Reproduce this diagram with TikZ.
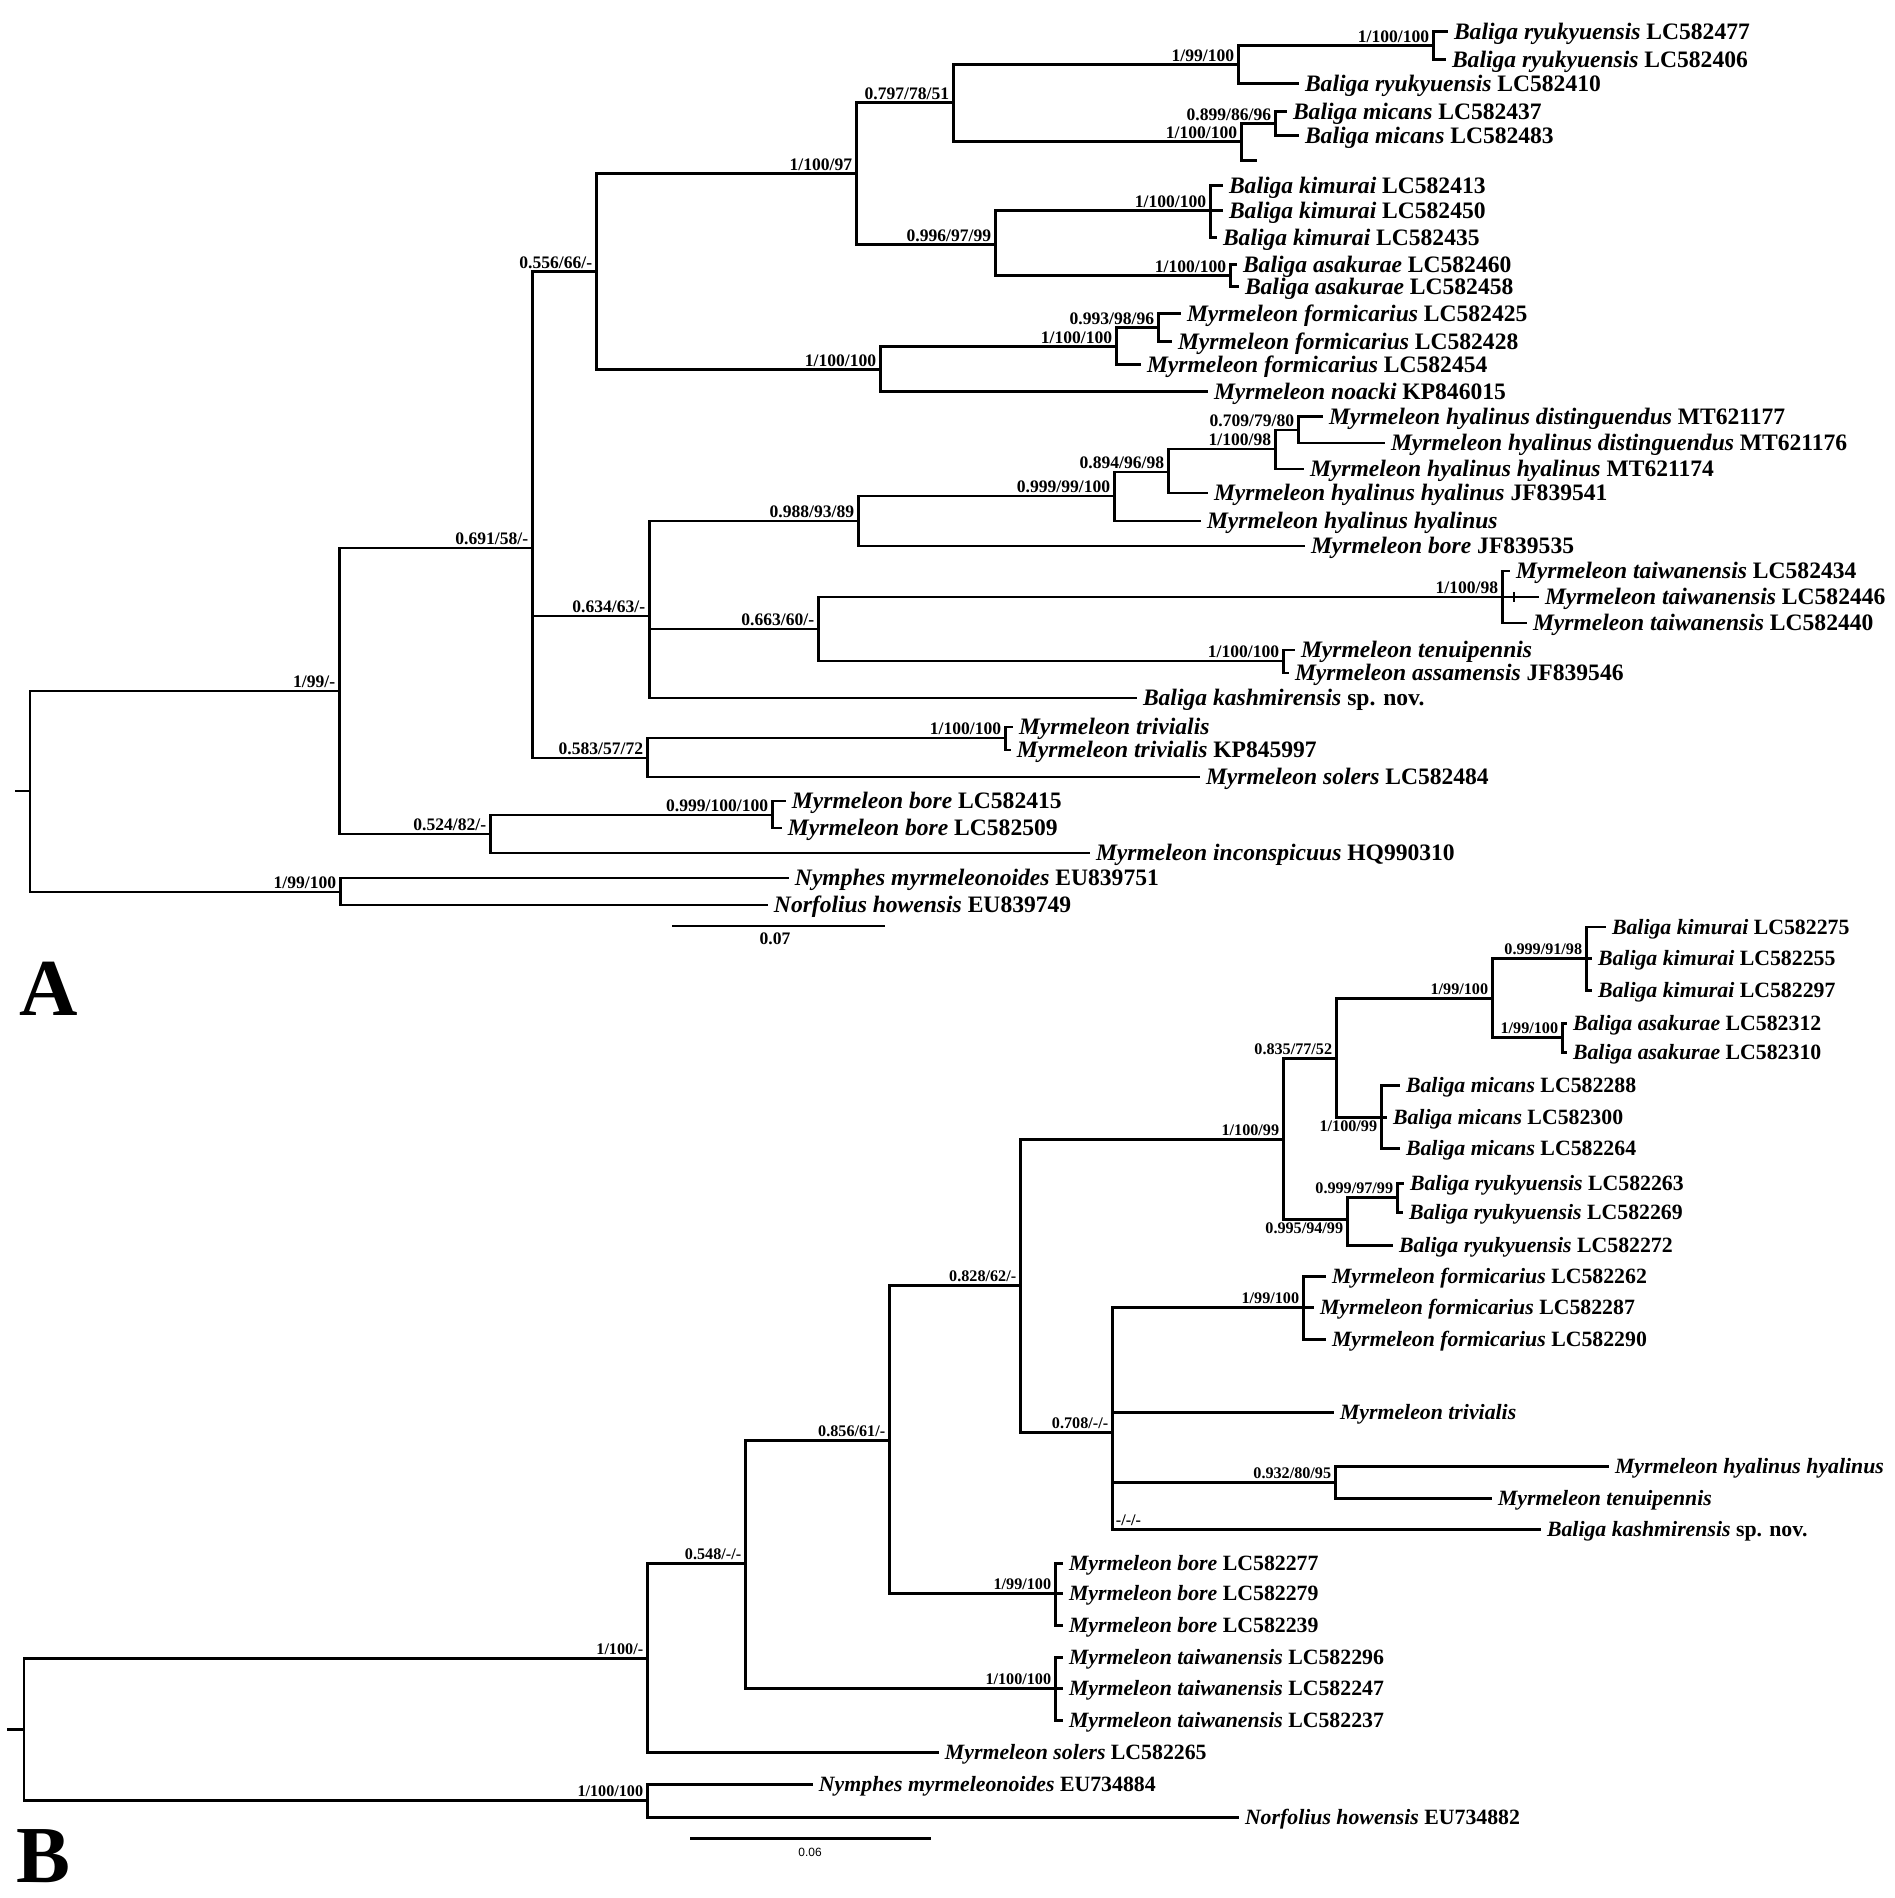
\documentclass[tikz,border=0pt]{standalone}
\usepackage{fontspec}
\setmainfont{Liberation Serif}
\setsansfont{Liberation Sans}
\newcommand{\taxon}[2]{\textit{#1}~#2}
\begin{document}
\begin{tikzpicture}[x=0.01cm,y=-0.01cm,
  branch/.style={line width=0.85pt},
  tip/.style={anchor=west,inner sep=1.5pt,text height=4.4pt,text depth=0pt,
    font=\fontsize{6.7}{7}\selectfont\bfseries},
  tipb/.style={tip,text height=4.1pt,font=\fontsize{6.2}{7}\selectfont\bfseries},
  supa/.style={anchor=south east,inner sep=0.9pt,text depth=0pt,
    font=\fontsize{5}{6}\selectfont\bfseries},
  supb/.style={supa,font=\fontsize{4.6}{5.5}\selectfont\bfseries},
  panel/.style={anchor=base west,inner sep=0pt,font=\fontsize{23}{23}\selectfont\bfseries}]
  \useasboundingbox (0,0) rectangle (1895,1898);

  % ================= tree A =================
  % internal nodes
  \coordinate (a0s) at (15,791);
  \coordinate (a0) at (30,791);
  \coordinate (a1) at (339,691);
  \coordinate (a2) at (532,548);
  \coordinate (a3) at (596,272);
  \coordinate (a4) at (856,174);
  \coordinate (a5) at (953,103);
  \coordinate (a6) at (1238,65);
  \coordinate (a7) at (1433,46);
  \coordinate (a8) at (1241,142);
  \coordinate (a9) at (1275,124);
  \coordinate (a10) at (995,245);
  \coordinate (a11) at (1210,211);
  \coordinate (a12) at (1230,276);
  \coordinate (a13) at (880,370);
  \coordinate (a14) at (1116,347);
  \coordinate (a15) at (1158,328);
  \coordinate (a16) at (649,616);
  \coordinate (a17) at (858,521);
  \coordinate (a18) at (1114,496);
  \coordinate (a19) at (1168,472);
  \coordinate (a20) at (1275,449);
  \coordinate (a21) at (1298,430);
  \coordinate (a22) at (818,629);
  \coordinate (a23) at (1502,597);
  \coordinate (a24) at (1283,661);
  \coordinate (a25) at (647,758);
  \coordinate (a26) at (1005,738);
  \coordinate (a27) at (490,834);
  \coordinate (a28) at (772,815);
  \coordinate (a29) at (340,892);
  \coordinate (e1) at (1257,161);

  % tips
  \node[tip] (t1) at (1448,32) {\taxon{Baliga ryukyuensis}{LC582477}};
  \node[tip] (t2) at (1446,60) {\taxon{Baliga ryukyuensis}{LC582406}};
  \node[tip] (t3) at (1299,84) {\taxon{Baliga ryukyuensis}{LC582410}};
  \node[tip] (t4) at (1287,112) {\taxon{Baliga micans}{LC582437}};
  \node[tip] (t5) at (1299,136) {\taxon{Baliga micans}{LC582483}};
  \node[tip] (t6) at (1223,186) {\taxon{Baliga kimurai}{LC582413}};
  \node[tip] (t7) at (1223,211) {\taxon{Baliga kimurai}{LC582450}};
  \node[tip] (t8) at (1217,238) {\taxon{Baliga kimurai}{LC582435}};
  \node[tip] (t9) at (1237,265) {\taxon{Baliga asakurae}{LC582460}};
  \node[tip] (t10) at (1239,287) {\taxon{Baliga asakurae}{LC582458}};
  \node[tip] (t11) at (1181,314) {\taxon{Myrmeleon formicarius}{LC582425}};
  \node[tip] (t12) at (1172,342) {\taxon{Myrmeleon formicarius}{LC582428}};
  \node[tip] (t13) at (1141,365) {\taxon{Myrmeleon formicarius}{LC582454}};
  \node[tip] (t14) at (1208,392) {\taxon{Myrmeleon noacki}{KP846015}};
  \node[tip] (t15) at (1323,417) {\taxon{Myrmeleon hyalinus distinguendus}{MT621177}};
  \node[tip] (t16) at (1385,443) {\taxon{Myrmeleon hyalinus distinguendus}{MT621176}};
  \node[tip] (t17) at (1304,469) {\taxon{Myrmeleon hyalinus hyalinus}{MT621174}};
  \node[tip] (t18) at (1208,493) {\taxon{Myrmeleon hyalinus hyalinus}{JF839541}};
  \node[tip] (t19) at (1201,521) {\textit{Myrmeleon hyalinus hyalinus}};
  \node[tip] (t20) at (1305,546) {\taxon{Myrmeleon bore}{JF839535}};
  \node[tip] (t21) at (1510,571) {\taxon{Myrmeleon taiwanensis}{LC582434}};
  \node[tip] (t22) at (1539,597) {\taxon{Myrmeleon taiwanensis}{LC582446}};
  \node[tip] (t23) at (1527,623) {\taxon{Myrmeleon taiwanensis}{LC582440}};
  \node[tip] (t24) at (1295,650) {\textit{Myrmeleon tenuipennis}};
  \node[tip] (t25) at (1289,673) {\taxon{Myrmeleon assamensis}{JF839546}};
  \node[tip] (t26) at (1137,698) {\taxon{Baliga kashmirensis}{sp. nov.}};
  \node[tip] (t27) at (1013,727) {\textit{Myrmeleon trivialis}};
  \node[tip] (t28) at (1011,750) {\taxon{Myrmeleon trivialis}{KP845997}};
  \node[tip] (t29) at (1200,777) {\taxon{Myrmeleon solers}{LC582484}};
  \node[tip] (t30) at (786,801) {\taxon{Myrmeleon bore}{LC582415}};
  \node[tip] (t31) at (782,828) {\taxon{Myrmeleon bore}{LC582509}};
  \node[tip] (t32) at (1090,853) {\taxon{Myrmeleon inconspicuus}{HQ990310}};
  \node[tip] (t33) at (789,878) {\taxon{Nymphes myrmeleonoides}{EU839751}};
  \node[tip] (t34) at (768,905) {\taxon{Norfolius howensis}{EU839749}};

  % branches
  \draw[branch] (a0s) -- (a0);
  \draw[branch] (a0) |- (a1) (a0) |- (a29);
  \draw[branch] (a1) |- (a2) (a1) |- (a27);
  \draw[branch] (a2) |- (a3) (a2) |- (a16) (a2) |- (a25);
  \draw[branch] (a3) |- (a4) (a3) |- (a13);
  \draw[branch] (a4) |- (a5) (a4) |- (a10);
  \draw[branch] (a5) |- (a6) (a5) |- (a8);
  \draw[branch] (a6) |- (a7) (a6) |- (t3.west);
  \draw[branch] (a7) |- (t1.west) (a7) |- (t2.west);
  \draw[branch] (a8) |- (a9) (a8) |- (e1);
  \draw[branch] (a9) |- (t4.west) (a9) |- (t5.west);
  \draw[branch] (a10) |- (a11) (a10) |- (a12);
  \draw[branch] (a11) |- (t6.west) (a11) |- (t7.west) (a11) |- (t8.west);
  \draw[branch] (a12) |- (t9.west) (a12) |- (t10.west);
  \draw[branch] (a13) |- (a14) (a13) |- (t14.west);
  \draw[branch] (a14) |- (a15) (a14) |- (t13.west);
  \draw[branch] (a15) |- (t11.west) (a15) |- (t12.west);
  \draw[branch] (a16) |- (a17) (a16) |- (a22) (a16) |- (t26.west);
  \draw[branch] (a17) |- (a18) (a17) |- (t20.west);
  \draw[branch] (a18) |- (a19) (a18) |- (t19.west);
  \draw[branch] (a19) |- (a20) (a19) |- (t18.west);
  \draw[branch] (a20) |- (a21) (a20) |- (t17.west);
  \draw[branch] (a21) |- (t15.west) (a21) |- (t16.west);
  \draw[branch] (a22) |- (a23) (a22) |- (a24);
  \draw[branch] (a23) |- (t21.west) (a23) |- (t22.west) (a23) |- (t23.west);
  \draw[branch,line width=0.5pt] (1514,592) -- (1514,602);
  \draw[branch] (a24) |- (t24.west) (a24) |- (t25.west);
  \draw[branch] (a25) |- (a26) (a25) |- (t29.west);
  \draw[branch] (a26) |- (t27.west) (a26) |- (t28.west);
  \draw[branch] (a27) |- (a28) (a27) |- (t32.west);
  \draw[branch] (a28) |- (t30.west) (a28) |- (t31.west);
  \draw[branch] (a29) |- (t33.west) (a29) |- (t34.west);

  % support values
  \node[supa] (sa1) at (a1) {1/99/-};
  \node[supa] (sa2) at (a2) {0.691/58/-};
  \node[supa] (sa3) at (a3) {0.556/66/-};
  \node[supa] (sa4) at (a4) {1/100/97};
  \node[supa] (sa5) at (a5) {0.797/78/51};
  \node[supa] (sa6) at (a6) {1/99/100};
  \node[supa] (sa7) at (a7) {1/100/100};
  \node[supa] (sa8) at (a8) {1/100/100};
  \node[supa] (sa9) at (a9) {0.899/86/96};
  \node[supa] (sa10) at (a10) {0.996/97/99};
  \node[supa] (sa11) at (a11) {1/100/100};
  \node[supa] (sa12) at (a12) {1/100/100};
  \node[supa] (sa13) at (a13) {1/100/100};
  \node[supa] (sa14) at (a14) {1/100/100};
  \node[supa] (sa15) at (a15) {0.993/98/96};
  \node[supa] (sa16) at (a16) {0.634/63/-};
  \node[supa] (sa17) at (a17) {0.988/93/89};
  \node[supa] (sa18) at (a18) {0.999/99/100};
  \node[supa] (sa19) at (a19) {0.894/96/98};
  \node[supa] (sa20) at (a20) {1/100/98};
  \node[supa] (sa21) at (a21) {0.709/79/80};
  \node[supa] (sa22) at (a22) {0.663/60/-};
  \node[supa] (sa23) at (a23) {1/100/98};
  \node[supa] (sa24) at (a24) {1/100/100};
  \node[supa] (sa25) at (a25) {0.583/57/72};
  \node[supa] (sa26) at (a26) {1/100/100};
  \node[supa] (sa27) at (a27) {0.524/82/-};
  \node[supa] (sa28) at (a28) {0.999/100/100};
  \node[supa] (sa29) at (a29) {1/99/100};

  % scale bar and panel letter
  \coordinate (barA1) at (672,926);
  \coordinate (barA2) at (885,926);
  \draw[branch] (barA1) -- (barA2);
  \node[inner sep=0pt,font=\fontsize{5}{6}\selectfont\bfseries] (barAlab) at (775,939) {0.07};
  \node[panel] (panA) at (19,1015) {A};

  % ================= tree B =================
  % internal nodes
  \coordinate (b0s) at (7,1729);
  \coordinate (b0) at (24,1729);
  \coordinate (b1) at (647,1658);
  \coordinate (b2) at (745,1563);
  \coordinate (b3) at (889,1440);
  \coordinate (b4) at (1020,1285);
  \coordinate (b5) at (1283,1139);
  \coordinate (b6) at (1336,1058);
  \coordinate (b7) at (1492,998);
  \coordinate (b8) at (1586,958);
  \coordinate (b9) at (1562,1037);
  \coordinate (b10) at (1381,1117);
  \coordinate (b11) at (1347,1219);
  \coordinate (b12) at (1397,1197);
  \coordinate (b13) at (1112,1432);
  \coordinate (b14) at (1303,1307);
  \coordinate (b15) at (1335,1482);
  \coordinate (b16) at (1055,1593);
  \coordinate (b17) at (1055,1688);
  \coordinate (b18) at (647,1800);

  % tips
  \node[tipb] (u1) at (1606,927) {\taxon{Baliga kimurai}{LC582275}};
  \node[tipb] (u2) at (1592,958) {\taxon{Baliga kimurai}{LC582255}};
  \node[tipb] (u3) at (1592,990) {\taxon{Baliga kimurai}{LC582297}};
  \node[tipb] (u4) at (1567,1023) {\taxon{Baliga asakurae}{LC582312}};
  \node[tipb] (u5) at (1567,1052) {\taxon{Baliga asakurae}{LC582310}};
  \node[tipb] (u6) at (1400,1085) {\taxon{Baliga micans}{LC582288}};
  \node[tipb] (u7) at (1387,1117) {\taxon{Baliga micans}{LC582300}};
  \node[tipb] (u8) at (1400,1148) {\taxon{Baliga micans}{LC582264}};
  \node[tipb] (u9) at (1404,1183) {\taxon{Baliga ryukyuensis}{LC582263}};
  \node[tipb] (u10) at (1403,1212) {\taxon{Baliga ryukyuensis}{LC582269}};
  \node[tipb] (u11) at (1393,1245) {\taxon{Baliga ryukyuensis}{LC582272}};
  \node[tipb] (u12) at (1326,1276) {\taxon{Myrmeleon formicarius}{LC582262}};
  \node[tipb] (u13) at (1314,1307) {\taxon{Myrmeleon formicarius}{LC582287}};
  \node[tipb] (u14) at (1326,1339) {\taxon{Myrmeleon formicarius}{LC582290}};
  \node[tipb] (u15) at (1334,1412) {\textit{Myrmeleon trivialis}};
  \node[tipb] (u16) at (1609,1466) {\textit{Myrmeleon hyalinus hyalinus}};
  \node[tipb] (u17) at (1492,1498) {\textit{Myrmeleon tenuipennis}};
  \node[tipb] (u18) at (1541,1529) {\taxon{Baliga kashmirensis}{sp. nov.}};
  \node[tipb] (u19) at (1063,1563) {\taxon{Myrmeleon bore}{LC582277}};
  \node[tipb] (u20) at (1063,1593) {\taxon{Myrmeleon bore}{LC582279}};
  \node[tipb] (u21) at (1063,1625) {\taxon{Myrmeleon bore}{LC582239}};
  \node[tipb] (u22) at (1063,1657) {\taxon{Myrmeleon taiwanensis}{LC582296}};
  \node[tipb] (u23) at (1063,1688) {\taxon{Myrmeleon taiwanensis}{LC582247}};
  \node[tipb] (u24) at (1063,1720) {\taxon{Myrmeleon taiwanensis}{LC582237}};
  \node[tipb] (u25) at (939,1752) {\taxon{Myrmeleon solers}{LC582265}};
  \node[tipb] (u26) at (813,1784) {\taxon{Nymphes myrmeleonoides}{EU734884}};
  \node[tipb] (u27) at (1239,1817) {\taxon{Norfolius howensis}{EU734882}};

  % branches
  \draw[branch] (b0s) -- (b0);
  \draw[branch] (b0) |- (b1) (b0) |- (b18);
  \draw[branch] (b1) |- (b2) (b1) |- (u25.west);
  \draw[branch] (b2) |- (b3) (b2) |- (b17);
  \draw[branch] (b3) |- (b4) (b3) |- (b16);
  \draw[branch] (b4) |- (b5) (b4) |- (b13);
  \draw[branch] (b5) |- (b6) (b5) |- (b11);
  \draw[branch] (b6) |- (b7) (b6) |- (b10);
  \draw[branch] (b7) |- (b8) (b7) |- (b9);
  \draw[branch] (b8) |- (u1.west) (b8) |- (u2.west) (b8) |- (u3.west);
  \draw[branch] (b9) |- (u4.west) (b9) |- (u5.west);
  \draw[branch] (b10) |- (u6.west) (b10) |- (u7.west) (b10) |- (u8.west);
  \draw[branch] (b11) |- (b12) (b11) |- (u11.west);
  \draw[branch] (b12) |- (u9.west) (b12) |- (u10.west);
  \draw[branch] (b13) |- (b14) (b13) |- (u15.west) (b13) |- (b15) (b13) |- (u18.west);
  \draw[branch] (b14) |- (u12.west) (b14) |- (u13.west) (b14) |- (u14.west);
  \draw[branch] (b15) |- (u16.west) (b15) |- (u17.west);
  \draw[branch] (b16) |- (u19.west) (b16) |- (u20.west) (b16) |- (u21.west);
  \draw[branch] (b17) |- (u22.west) (b17) |- (u23.west) (b17) |- (u24.west);
  \draw[branch] (b18) |- (u26.west) (b18) |- (u27.west);

  % support values
  \node[supb] (sb1) at (b1) {1/100/-};
  \node[supb] (sb2) at (b2) {0.548/-/-};
  \node[supb] (sb3) at (b3) {0.856/61/-};
  \node[supb] (sb4) at (b4) {0.828/62/-};
  \node[supb] (sb5) at (b5) {1/100/99};
  \node[supb] (sb6) at (b6) {0.835/77/52};
  \node[supb] (sb7) at (b7) {1/99/100};
  \node[supb] (sb8) at (b8) {0.999/91/98};
  \node[supb] (sb9) at (b9) {1/99/100};
  \node[supb,anchor=north east] (sb10) at (b10) {1/100/99};
  \node[supb,anchor=north east] (sb11) at (b11) {0.995/94/99};
  \node[supb] (sb12) at (b12) {0.999/97/99};
  \node[supb] (sb13) at (b13) {0.708/-/-};
  \node[supb] (sb14) at (b14) {1/99/100};
  \node[supb] (sb15) at (b15) {0.932/80/95};
  \node[supb,anchor=south west] (sb13x) at (b13 |- u18) {-/-/-};
  \node[supb] (sb16) at (b16) {1/99/100};
  \node[supb] (sb17) at (b17) {1/100/100};
  \node[supb] (sb18) at (b18) {1/100/100};

  % scale bar and panel letter
  \coordinate (barB1) at (690,1838);
  \coordinate (barB2) at (931,1838);
  \draw[branch] (barB1) -- (barB2);
  \node[inner sep=0pt,font=\fontsize{3.4}{4}\selectfont\sffamily] (barBlab) at (810,1852) {0.06};
  \node[panel] (panB) at (16,1882) {B};
\end{tikzpicture}
\end{document}
